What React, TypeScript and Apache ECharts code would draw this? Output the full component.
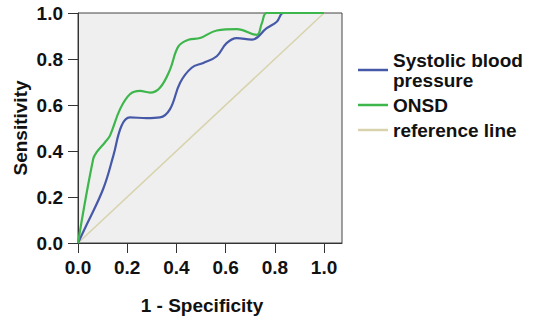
import React, { useEffect, useRef } from "react";
import * as echarts from "echarts";

const xTicks = [0, 0.2, 0.4, 0.6, 0.8, 1.0];
const yTicks = [0, 0.2, 0.4, 0.6, 0.8, 1.0];

const sbpFpr = [0, 0.035, 0.103, 0.144, 0.177, 0.211, 0.279, 0.333, 0.374, 0.415, 0.462, 0.509, 0.564, 0.604, 0.645, 0.706, 0.767, 0.808, 0.835, 0.9, 1.0];
const sbpTpr = [0, 0.079, 0.237, 0.381, 0.51, 0.546, 0.543, 0.546, 0.582, 0.697, 0.762, 0.783, 0.812, 0.869, 0.891, 0.884, 0.934, 0.962, 1.0, 1.0, 1.0];

const onsdFpr = [0, 0.062, 0.076, 0.11, 0.13, 0.171, 0.211, 0.252, 0.293, 0.333, 0.374, 0.408, 0.449, 0.496, 0.564, 0.645, 0.726, 0.747, 0.767, 0.85, 1.0];
const onsdTpr = [0, 0.366, 0.395, 0.438, 0.467, 0.582, 0.647, 0.661, 0.654, 0.675, 0.754, 0.855, 0.884, 0.891, 0.924, 0.93, 0.905, 0.955, 1.0, 1.0, 1.0];

const refFpr = [0, 1];
const refTpr = [0, 1];

const seriesNames = ["Systolic blood pressure", "ONSD", "reference line"];

const FONT = "'Liberation Sans', Arial, sans-serif";

function pairs(xs: number[], ys: number[]) {
  return xs.map((x, i) => [x, ys[i]]);
}

export default function App() {
  const ref = useRef<HTMLDivElement>(null);
  useEffect(() => {
    if (!ref.current) return;
    const chart = echarts.init(ref.current, undefined, { renderer: "svg" });
    chart.setOption({
      animation: false,
      backgroundColor: "#ffffff",
      grid: {
        left: 78,
        right: 191,
        top: 13,
        bottom: 75,
        show: true,
        backgroundColor: "#efefef",
        borderColor: "#444",
        borderWidth: 1,
      },
      legend: {
        orient: "vertical",
        left: 353,
        top: 45,
        itemWidth: 30,
        itemHeight: 2.5,
        itemGap: 5,
        icon: "rect",
        data: seriesNames,
        formatter: (n: string) => (n === "Systolic blood pressure" ? "Systolic blood\npressure" : n),
        textStyle: {
          fontFamily: FONT,
          fontWeight: "bold",
          fontSize: 19,
          lineHeight: 20,
          color: "#111",
        },
      },
      xAxis: {
        type: "value",
        min: 0,
        max: 1.073,
        name: "1 - Specificity",
        nameLocation: "middle",
        nameGap: 53,
        nameTextStyle: {
          fontFamily: FONT,
          fontWeight: "bold",
          fontSize: 19,
          color: "#111",
          padding: [0, 16, 0, 0],
        },
        splitLine: { show: false },
        axisLine: { show: true, lineStyle: { color: "#333", width: 1 } },
        axisTick: { show: true, length: 10, customValues: xTicks, lineStyle: { color: "#333" } },
        axisLabel: {
          customValues: xTicks,
          formatter: (v: number) => v.toFixed(1),
          fontFamily: FONT,
          fontWeight: "bold",
          fontSize: 19,
          color: "#111",
          margin: 15,
        },
      },
      yAxis: {
        type: "value",
        min: 0,
        max: 1,
        interval: 0.2,
        name: "Sensitivity",
        nameLocation: "middle",
        nameGap: 48,
        nameTextStyle: {
          fontFamily: FONT,
          fontWeight: "bold",
          fontSize: 19,
          color: "#111",
        },
        splitLine: { show: false },
        axisLine: { show: true, lineStyle: { color: "#333", width: 1 } },
        axisTick: { show: true, length: 10, lineStyle: { color: "#333" } },
        axisLabel: {
          formatter: (v: number) => (yTicks.includes(Math.round(v * 10) / 10) ? v.toFixed(1) : ""),
          fontFamily: FONT,
          fontWeight: "bold",
          fontSize: 19,
          color: "#111",
          margin: 15,
        },
      },
      series: [
        {
          name: seriesNames[0],
          type: "line",
          data: pairs(sbpFpr, sbpTpr),
          smooth: 0.4,
          symbol: "none",
          lineStyle: { color: "#4659a8", width: 2.2 },
          itemStyle: { color: "#4659a8" },
          z: 3,
        },
        {
          name: seriesNames[1],
          type: "line",
          data: pairs(onsdFpr, onsdTpr),
          smooth: 0.4,
          symbol: "none",
          lineStyle: { color: "#3db64b", width: 2.2 },
          itemStyle: { color: "#3db64b" },
          z: 4,
        },
        {
          name: seriesNames[2],
          type: "line",
          data: pairs(refFpr, refTpr),
          symbol: "none",
          lineStyle: { color: "#d8d3ad", width: 1.6 },
          itemStyle: { color: "#d8d3ad" },
          z: 2,
        },
      ],
    });
    return () => chart.dispose();
  }, []);
  return (
    <div
      ref={ref}
      style={{ position: "fixed", left: 0, top: 0, width: 533, height: 320, background: "#fff" }}
    />
  );
}
